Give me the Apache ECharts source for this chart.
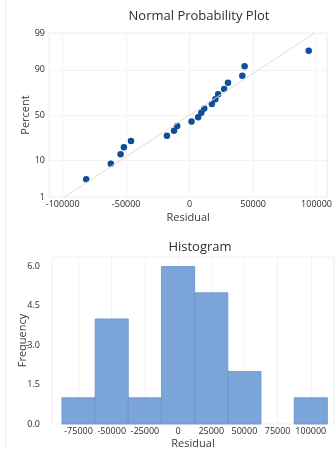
<!DOCTYPE html>
<html>
<head>
<meta charset="utf-8">
<script src="https://cdn.jsdelivr.net/npm/echarts@6/dist/echarts.min.js"></script>
<style>
  html, body { margin: 0; padding: 0; background: #fff; }
  #chart { width: 335px; height: 450px; }
</style>
</head>
<body>
<div id="chart"></div>
<script>
// residuals, sorted
const residuals = [-81500, -62100, -54400, -51800, -46200, -17900, -12300, -9800, 1500, 6700,
  9200, 11500, 17500, 20200, 22500, 27200, 30200, 41500, 43300, 93800];
const percents = [3.4, 8.3, 13.2, 18.1, 23.0, 27.9, 32.8, 37.7, 42.6, 47.5,
  52.5, 57.4, 62.3, 67.2, 72.1, 77.0, 81.9, 86.8, 91.7, 96.6];
// fitted normal line, endpoints as [residual, percent]
const fitLine = [[-98500, 1], [98500, 99]];
const percentTicks = [1, 10, 50, 90, 99];
const residualTicks = [-100000, -50000, 0, 50000, 100000];

// histogram
const binCenters = [-75000, -50000, -25000, 0, 25000, 50000, 75000, 100000];
const binCounts = [1, 4, 1, 6, 5, 2, 0, 1];
const binWidth = 25000;
const freqTicks = [0, 1.5, 3, 4.5, 6];

// inverse standard normal cdf (Acklam), used for the probability axis
function invNorm(p) {
  const a = [-39.69683028665376, 220.9460984245205, -275.9285104469687, 138.3577518672690, -30.66479806614716, 2.506628277459239];
  const b = [-54.47609879822406, 161.5858368580409, -155.6989798598866, 66.80131188771972, -13.28068155288572];
  const c = [-0.007784894002430293, -0.3223964580411365, -2.400758277161838, -2.549732539343734, 4.374664141464968, 2.938163982698783];
  const d = [0.007784695709041462, 0.3224671290700398, 2.445134137142996, 3.754408661907416];
  const pl = 0.02425;
  let q, r;
  if (p < pl) {
    q = Math.sqrt(-2 * Math.log(p));
    return (((((c[0]*q+c[1])*q+c[2])*q+c[3])*q+c[4])*q+c[5]) / ((((d[0]*q+d[1])*q+d[2])*q+d[3])*q+1);
  } else if (p <= 1 - pl) {
    q = p - 0.5; r = q * q;
    return (((((a[0]*r+a[1])*r+a[2])*r+a[3])*r+a[4])*r+a[5])*q / (((((b[0]*r+b[1])*r+b[2])*r+b[3])*r+b[4])*r+1);
  }
  q = Math.sqrt(-2 * Math.log(1 - p));
  return -(((((c[0]*q+c[1])*q+c[2])*q+c[3])*q+c[4])*q+c[5]) / ((((d[0]*q+d[1])*q+d[2])*q+d[3])*q+1);
}
const z = (pct) => invNorm(pct / 100);
const zTicks = percentTicks.map(z);

const font = "'Open Sans', 'Noto Sans', sans-serif";
const labelStyle = { color: "#2b2b2b", fontSize: 9, fontFamily: font };
const nameStyle = { color: "#3a3a3a", fontSize: 11, fontFamily: font };
const faint = { lineStyle: { color: "#f3f3f3", width: 1 } };
const plain = (v) => String(Math.round(v));

const chart = echarts.init(document.getElementById("chart"));

chart.setOption({
  animation: false,
  title: [
    { text: "Normal Probability Plot", left: 194, top: 5, textAlign: "center",
      textStyle: { fontSize: 13, fontWeight: 500, color: "#2e2e2e", fontFamily: font } },
    { text: "Histogram", left: 195, top: 236, textAlign: "center",
      textStyle: { fontSize: 13, fontWeight: 500, color: "#2e2e2e", fontFamily: font } },
  ],
  graphic: [
    { type: "line", shape: { x1: 5.5, y1: 0, x2: 5.5, y2: 450 }, style: { stroke: "#ececec", lineWidth: 1 } },
  ],
  grid: [
    { left: 49, top: 33, width: 285, height: 164, show: true, borderColor: "#eeeeee", borderWidth: 1 },
    { left: 52, top: 257, width: 282, height: 169, show: true, borderColor: "#eeeeee", borderWidth: 1 },
  ],
  xAxis: [
    {
      gridIndex: 0, type: "value", min: -110800, max: 108400,
      name: "Residual", nameLocation: "middle", nameGap: 15, nameTextStyle: nameStyle,
      nameMoveOverlap: false,
      axisLine: { show: false }, axisTick: { show: false, customValues: residualTicks },
      axisLabel: { ...labelStyle, margin: 3, customValues: residualTicks, formatter: plain },
      splitLine: { show: true, ...faint },
    },
    {
      gridIndex: 1, type: "value", min: -95000, max: 117500,
      name: "Residual", nameLocation: "middle", nameGap: 14, nameTextStyle: nameStyle,
      nameMoveOverlap: false,
      axisLine: { show: false }, axisTick: { show: false, customValues: binCenters },
      axisLabel: { ...labelStyle, margin: 3, customValues: binCenters, formatter: plain },
      splitLine: { show: true, ...faint },
    },
  ],
  yAxis: [
    {
      gridIndex: 0, type: "value", min: zTicks[0], max: zTicks[zTicks.length - 1],
      name: "Percent", nameLocation: "middle", nameGap: 18, nameTextStyle: nameStyle,
      nameMoveOverlap: false,
      axisLine: { show: false }, axisTick: { show: false, customValues: zTicks },
      axisLabel: {
        ...labelStyle, margin: 4, customValues: zTicks,
        formatter: (v) => {
          let best = 0;
          zTicks.forEach((t, i) => { if (Math.abs(t - v) < Math.abs(zTicks[best] - v)) best = i; });
          return String(percentTicks[best]);
        },
      },
      splitLine: { show: true, ...faint },
    },
    {
      gridIndex: 1, type: "value", min: 0, max: 6.36,
      name: "Frequency", nameLocation: "middle", nameGap: 24, nameTextStyle: nameStyle,
      nameMoveOverlap: false,
      axisLine: { show: false }, axisTick: { show: false, customValues: freqTicks },
      axisLabel: { ...labelStyle, margin: 12, customValues: freqTicks, formatter: (v) => v.toFixed(1) },
      splitLine: { show: false },
    },
  ],
  series: [
    {
      type: "line", xAxisIndex: 0, yAxisIndex: 0,
      data: fitLine.map(([x, p]) => [x, z(p)]),
      symbol: "none", silent: true,
      lineStyle: { color: "#ecd6d2", width: 1 },
    },
    {
      type: "scatter", xAxisIndex: 0, yAxisIndex: 0,
      data: residuals.map((r, i) => [r, z(percents[i])]),
      symbolSize: 6.5,
      itemStyle: { color: "#0e4f99", opacity: 1 },
    },
    {
      type: "custom", xAxisIndex: 1, yAxisIndex: 1,
      data: binCenters.map((c, i) => [c, binCounts[i]]),
      renderItem: (params, api) => {
        const c = api.value(0), n = api.value(1);
        if (!n) return null;
        const p0 = api.coord([c - binWidth / 2, n]);
        const p1 = api.coord([c + binWidth / 2, 0]);
        return {
          type: "rect",
          shape: { x: p0[0], y: p0[1], width: p1[0] - p0[0], height: p1[1] - p0[1] },
          style: { fill: "#7ba5d9", stroke: "#6a93c8", lineWidth: 0.8 },
        };
      },
    },
  ],
});
</script>
</body>
</html>
